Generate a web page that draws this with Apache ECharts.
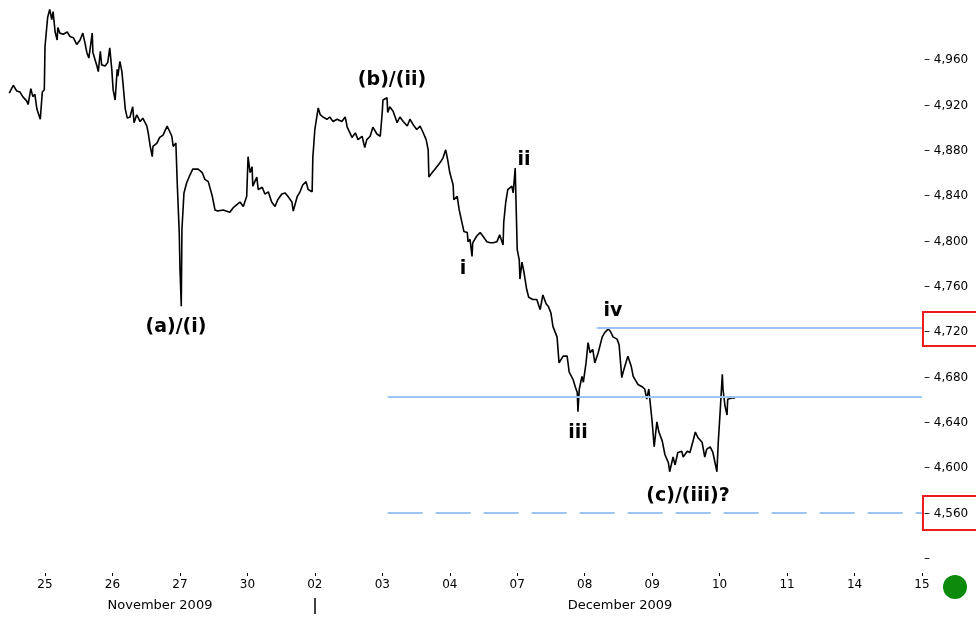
<!DOCTYPE html>
<html>
<head>
<meta charset="utf-8">
<script src="https://cdn.jsdelivr.net/npm/echarts@6/dist/echarts.min.js"></script>
<style>
html,body{margin:0;padding:0;background:#fff;}
#chart{width:976px;height:618px;}
</style>
</head>
<body>
<div id="chart"></div>
<script>
// x positions in trading-day units (0 = "25"), prices in index points
const dayLabels = ['25','26','27','30','02','03','04','07','08','09','10','11','14','15'];
const monthLabels = ['November 2009', 'December 2009'];

const timeA = [-0.53,-0.47,-0.42,-0.37,-0.33,-0.27,-0.25,-0.21,-0.18,-0.15,-0.12,-0.07,-0.04,-0.01,0.00,0.03,0.04,0.07,0.10,0.12,0.15,0.18,0.19,0.22,0.27,0.33,0.37,0.42,0.47,0.52,0.56,0.59,0.62,0.65,0.70,0.71,0.77,0.79,0.82,0.84,0.89,0.93,0.96,0.99,1.01,1.04,1.07,1.08,1.11,1.14,1.16,1.19,1.22,1.26,1.30,1.32,1.36,1.41,1.45,1.51,1.53,1.56,1.59,1.60,1.66,1.70,1.75,1.81,1.85,1.88,1.90,1.94,1.96,1.99,2.00,2.02,2.03,2.06,2.10,2.15,2.19,2.27,2.33,2.37,2.42,2.48,2.52,2.56,2.64,2.74,2.79,2.85,2.89,2.94,2.99];
const priceA = [4931,4938,4933,4932,4928,4924,4921,4935,4928,4930,4917,4908,4932,4934,4972,4992,4998,5005,4996,5003,4985,4978,4989,4984,4983,4985,4981,4980,4974,4978,4984,4976,4967,4962,4984,4967,4955,4950,4968,4956,4955,4958,4971,4952,4934,4925,4952,4946,4959,4950,4937,4917,4909,4910,4919,4905,4912,4906,4909,4902,4896,4884,4875,4884,4887,4892,4894,4902,4897,4893,4884,4887,4852,4808,4778,4743,4811,4843,4852,4859,4864,4864,4861,4855,4853,4840,4828,4827,4828,4826,4830,4833,4835,4831,4840];

const timeB = [3.01,3.04,3.07,3.08,3.14,3.16,3.22,3.26,3.31,3.36,3.41,3.45,3.51,3.56,3.60,3.66,3.68,3.74,3.78,3.82,3.87,3.90,3.96,3.97,4.00,4.05,4.08,4.12,4.18,4.22,4.27,4.33,4.40,4.45,4.48,4.52,4.55,4.60,4.64,4.70,4.74,4.77,4.82,4.86,4.92,4.97,5.00,5.01,5.07,5.08,5.11,5.16,5.22,5.26,5.31,5.37,5.41,5.46,5.51,5.56,5.60,5.65,5.68,5.69,5.74,5.78,5.86,5.90,5.94,5.97];
const priceB = [4875,4861,4866,4849,4857,4846,4848,4842,4844,4835,4831,4837,4842,4843,4840,4835,4827,4840,4844,4850,4853,4846,4844,4874,4899,4918,4912,4910,4908,4910,4906,4908,4906,4910,4901,4896,4892,4896,4890,4893,4883,4890,4893,4901,4895,4893,4915,4925,4927,4914,4919,4915,4905,4910,4906,4902,4908,4903,4899,4902,4897,4890,4881,4857,4861,4864,4870,4874,4881,4872];

const timeC = [6.00,6.05,6.06,6.11,6.14,6.18,6.21,6.26,6.27,6.30,6.33,6.34,6.40,6.45,6.49,6.55,6.60,6.64,6.70,6.74,6.79,6.80,6.83,6.86,6.92,6.94,6.97,6.98,7.00,7.03,7.04,7.07,7.10,7.14,7.17,7.23,7.29,7.34,7.38,7.43,7.46,7.50,7.53,7.59,7.62,7.68,7.74,7.77,7.83,7.86,7.89,7.90,7.92,7.96,7.98];
const priceC = [4861,4850,4837,4840,4828,4817,4809,4808,4800,4802,4787,4799,4805,4808,4805,4800,4799,4799,4800,4806,4797,4817,4835,4846,4849,4843,4865,4840,4793,4784,4767,4782,4773,4758,4751,4749,4749,4740,4753,4745,4743,4737,4725,4716,4693,4699,4699,4685,4678,4672,4667,4650,4670,4681,4676];

const timeD = [8.02,8.05,8.08,8.12,8.15,8.20,8.26,8.30,8.35,8.38,8.42,8.48,8.51,8.55,8.57,8.60,8.64,8.69,8.72,8.75,8.79,8.85,8.89,8.92,8.95,9.00,9.03,9.07,9.10,9.15,9.19,9.24,9.26,9.31,9.34,9.38,9.44,9.46,9.52,9.56,9.61,9.64,9.68,9.74,9.78,9.81,9.86,9.90,9.96,9.98,10.01,10.04,10.05,10.08,10.11,10.12,10.18,10.20,10.23];
const priceD = [4693,4711,4702,4705,4693,4702,4716,4720,4723,4721,4716,4714,4709,4680,4685,4691,4699,4690,4681,4678,4674,4672,4670,4661,4670,4641,4619,4641,4632,4624,4612,4605,4597,4610,4603,4614,4615,4610,4615,4614,4625,4632,4627,4623,4610,4617,4619,4614,4597,4623,4652,4683,4670,4655,4647,4661,4662,4663,4662];

// horizontal levels: [value, start day]
const levelValues = [4724, 4663];
const levelStarts = [8.18, 5.08];
const dashedValue = 4561;
const dashedStart = 5.08;
const levelEnd = 13;

const annotations = [
  {text:'(a)/(i)', x:176, y:327},
  {text:'(b)/(ii)', x:392, y:80},
  {text:'ii', x:524, y:160},
  {text:'i', x:463, y:269},
  {text:'iii', x:578, y:433},
  {text:'iv', x:613, y:311},
  {text:'(c)/(iii)?', x:688, y:496}
];

const times = timeA.concat(timeB, timeC, timeD);
const prices = priceA.concat(priceB, priceC, priceD);
const lineData = times.map((t, i) => [t, prices[i]]);
const dayIdx = dayLabels.map((_, i) => i);

const chart = echarts.init(document.getElementById('chart'), null, {renderer:'canvas'});

const markData = levelValues.map((v, i) => [
  {coord:[levelStarts[i], v], lineStyle:{type:'solid'}},
  {coord:[levelEnd, v]}
]);
markData.push([
  {coord:[dashedStart, dashedValue], lineStyle:{type:[35,13]}},
  {coord:[levelEnd, dashedValue]}
]);

const option = {
  animation:false,
  backgroundColor:'#ffffff',
  grid:{left:0, right:54, top:15, bottom:59, containLabel:false},
  xAxis:{
    type:'value', min:-0.667, max:13,
    offset:14,
    axisLine:{show:false},
    splitLine:{show:false},
    axisTick:{show:true, customValues:dayIdx, length:3, lineStyle:{color:'#000', width:1}},
    axisLabel:{
      customValues:dayIdx, margin:6,
      color:'#000', fontFamily:'DejaVu Sans', fontSize:12,
      formatter:(v) => dayLabels[Math.round(v)] || ''
    }
  },
  yAxis:{
    type:'value', position:'right', min:4520, max:5000, interval:40,
    axisLine:{show:false}, axisTick:{show:false}, splitLine:{show:false},
    axisLabel:{
      margin:2, align:'left', color:'#000', fontFamily:'DejaVu Sans', fontSize:12,
      showMaxLabel:true, showMinLabel:true,
      formatter:(v) => v > 4960 ? '' : (v <= 4520 ? '\u2013' : '\u2013 ' + v.toLocaleString('en-US'))
    }
  },
  series:[{
    type:'line', data:lineData, showSymbol:false, clip:false,
    lineStyle:{color:'#000', width:1.6},
    markLine:{
      silent:true, symbol:['none','none'], label:{show:false},
      lineStyle:{color:'#9fc6f2', width:1.8},
      data:markData
    }
  }],
  graphic:[
    ...annotations.map(a => ({
      type:'text', x:a.x, y:a.y,
      style:{text:a.text, fill:'#000', font:'bold 19px "DejaVu Sans"', align:'center', verticalAlign:'middle'}
    })),
    {type:'text', x:160, y:606, style:{text:monthLabels[0], fill:'#000', font:'13px "DejaVu Sans"', align:'center', verticalAlign:'middle'}},
    {type:'text', x:620, y:606, style:{text:monthLabels[1], fill:'#000', font:'13px "DejaVu Sans"', align:'center', verticalAlign:'middle'}},
    {type:'line', shape:{x1:315, y1:598, x2:315, y2:614}, style:{stroke:'#000', lineWidth:1.5}},
    {type:'rect', shape:{x:923, y:312, width:60, height:34}, style:{fill:'none', stroke:'#ee1c1c', lineWidth:2}},
    {type:'rect', shape:{x:923, y:496, width:60, height:34}, style:{fill:'none', stroke:'#ee1c1c', lineWidth:2}},
    {type:'circle', shape:{cx:955, cy:587, r:12}, style:{fill:'#0b8a0b'}}
  ]
};
chart.setOption(option);
</script>
</body>
</html>
